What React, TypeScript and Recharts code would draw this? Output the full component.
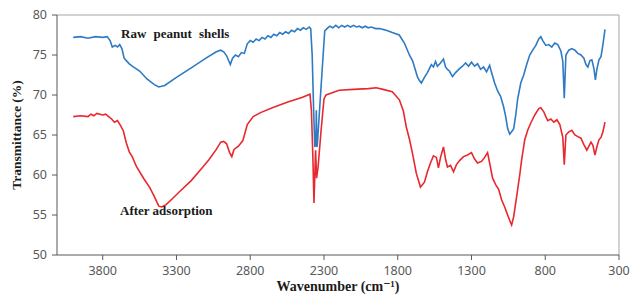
import { LineChart, Line, XAxis, YAxis, ReferenceLine, Label } from 'recharts';

// wavenumber (cm-1) / transmittance (%)
const rawShells = [
  { wn: 4000, t: 77.2 }, { wn: 3950, t: 77.3 }, { wn: 3900, t: 77.1 }, { wn: 3850, t: 77.3 },
  { wn: 3800, t: 77.2 }, { wn: 3770, t: 77.3 }, { wn: 3750, t: 76.8 }, { wn: 3735, t: 76.0 },
  { wn: 3715, t: 76.2 }, { wn: 3700, t: 76.0 }, { wn: 3685, t: 76.3 }, { wn: 3670, t: 75.8 },
  { wn: 3655, t: 74.6 }, { wn: 3640, t: 74.3 }, { wn: 3620, t: 73.9 }, { wn: 3600, t: 73.6 },
  { wn: 3550, t: 73.0 }, { wn: 3500, t: 72.0 }, { wn: 3450, t: 71.3 }, { wn: 3420, t: 71.0 },
  { wn: 3380, t: 71.2 }, { wn: 3300, t: 72.2 }, { wn: 3200, t: 73.4 }, { wn: 3100, t: 74.6 },
  { wn: 3030, t: 75.4 }, { wn: 3000, t: 75.6 }, { wn: 2980, t: 75.4 }, { wn: 2960, t: 74.9 },
  { wn: 2935, t: 73.8 }, { wn: 2920, t: 74.6 }, { wn: 2900, t: 75.0 }, { wn: 2880, t: 74.8 },
  { wn: 2860, t: 75.3 }, { wn: 2840, t: 75.2 }, { wn: 2820, t: 76.4 }, { wn: 2800, t: 76.8 },
  { wn: 2780, t: 76.6 }, { wn: 2760, t: 77.0 }, { wn: 2740, t: 76.8 }, { wn: 2720, t: 77.2 },
  { wn: 2700, t: 77.0 }, { wn: 2680, t: 77.4 }, { wn: 2660, t: 77.2 }, { wn: 2640, t: 77.6 },
  { wn: 2620, t: 77.4 }, { wn: 2600, t: 77.8 }, { wn: 2580, t: 77.6 }, { wn: 2560, t: 77.9 },
  { wn: 2540, t: 77.7 }, { wn: 2520, t: 78.1 }, { wn: 2500, t: 77.9 }, { wn: 2480, t: 78.3 },
  { wn: 2460, t: 78.1 }, { wn: 2440, t: 78.4 }, { wn: 2420, t: 78.2 }, { wn: 2400, t: 78.5 },
  { wn: 2390, t: 78.3 }, { wn: 2380, t: 75.0 }, { wn: 2370, t: 68.0 }, { wn: 2362, t: 63.5 },
  { wn: 2355, t: 64.0 }, { wn: 2352, t: 68.1 }, { wn: 2348, t: 63.5 }, { wn: 2345, t: 63.8 },
  { wn: 2320, t: 71.0 }, { wn: 2295, t: 78.0 }, { wn: 2280, t: 78.3 }, { wn: 2260, t: 78.6 },
  { wn: 2240, t: 78.4 }, { wn: 2220, t: 78.7 }, { wn: 2200, t: 78.4 }, { wn: 2180, t: 78.7 },
  { wn: 2160, t: 78.5 }, { wn: 2140, t: 78.7 }, { wn: 2120, t: 78.5 }, { wn: 2100, t: 78.7 },
  { wn: 2080, t: 78.5 }, { wn: 2060, t: 78.6 }, { wn: 2040, t: 78.4 }, { wn: 2020, t: 78.6 },
  { wn: 2000, t: 78.4 }, { wn: 1980, t: 78.5 }, { wn: 1950, t: 78.3 }, { wn: 1920, t: 78.3 },
  { wn: 1900, t: 78.2 }, { wn: 1878, t: 78.1 }, { wn: 1837, t: 77.8 }, { wn: 1790, t: 77.5 },
  { wn: 1755, t: 76.5 }, { wn: 1721, t: 75.0 }, { wn: 1700, t: 74.3 }, { wn: 1667, t: 72.3 },
  { wn: 1653, t: 71.8 }, { wn: 1640, t: 71.5 }, { wn: 1619, t: 72.2 }, { wn: 1599, t: 72.8 },
  { wn: 1572, t: 73.8 }, { wn: 1558, t: 73.5 }, { wn: 1544, t: 74.2 }, { wn: 1531, t: 73.6 },
  { wn: 1510, t: 74.0 }, { wn: 1490, t: 74.5 }, { wn: 1476, t: 73.5 }, { wn: 1463, t: 73.2 },
  { wn: 1450, t: 73.0 }, { wn: 1429, t: 72.3 }, { wn: 1408, t: 72.8 }, { wn: 1381, t: 73.3 },
  { wn: 1361, t: 73.6 }, { wn: 1340, t: 74.0 }, { wn: 1320, t: 73.6 }, { wn: 1300, t: 74.1 },
  { wn: 1279, t: 73.6 }, { wn: 1259, t: 73.9 }, { wn: 1238, t: 73.2 }, { wn: 1218, t: 73.5 },
  { wn: 1198, t: 72.9 }, { wn: 1177, t: 73.7 }, { wn: 1164, t: 72.8 }, { wn: 1143, t: 71.5 },
  { wn: 1123, t: 70.5 }, { wn: 1102, t: 69.8 }, { wn: 1082, t: 68.5 }, { wn: 1068, t: 67.3 },
  { wn: 1055, t: 65.8 }, { wn: 1041, t: 65.1 }, { wn: 1028, t: 65.4 }, { wn: 1014, t: 65.8 },
  { wn: 1000, t: 67.5 }, { wn: 987, t: 69.5 }, { wn: 966, t: 71.5 }, { wn: 946, t: 72.5 },
  { wn: 926, t: 73.8 }, { wn: 905, t: 75.0 }, { wn: 885, t: 75.6 }, { wn: 864, t: 76.2 },
  { wn: 844, t: 77.0 }, { wn: 830, t: 77.3 }, { wn: 817, t: 76.8 }, { wn: 796, t: 76.2 },
  { wn: 776, t: 76.3 }, { wn: 756, t: 76.0 }, { wn: 735, t: 76.5 }, { wn: 715, t: 76.3 },
  { wn: 694, t: 75.5 }, { wn: 681, t: 74.2 }, { wn: 671, t: 69.6 }, { wn: 660, t: 75.0 },
  { wn: 640, t: 75.6 }, { wn: 620, t: 75.8 }, { wn: 599, t: 75.6 }, { wn: 579, t: 75.2 },
  { wn: 558, t: 75.0 }, { wn: 538, t: 74.6 }, { wn: 524, t: 73.8 }, { wn: 511, t: 73.5 },
  { wn: 497, t: 74.3 }, { wn: 484, t: 74.4 }, { wn: 470, t: 73.3 }, { wn: 460, t: 71.9 },
  { wn: 450, t: 73.2 }, { wn: 436, t: 74.4 }, { wn: 422, t: 74.8 }, { wn: 409, t: 76.3 },
  { wn: 395, t: 78.2 },
];

const afterAdsorption = [
  { wn: 4000, t: 67.3 }, { wn: 3950, t: 67.4 }, { wn: 3900, t: 67.3 }, { wn: 3880, t: 67.6 },
  { wn: 3860, t: 67.4 }, { wn: 3840, t: 67.7 }, { wn: 3800, t: 67.5 }, { wn: 3780, t: 67.6 },
  { wn: 3760, t: 67.3 }, { wn: 3740, t: 67.0 }, { wn: 3720, t: 66.6 }, { wn: 3700, t: 66.8 },
  { wn: 3680, t: 66.2 }, { wn: 3660, t: 65.5 }, { wn: 3640, t: 64.0 }, { wn: 3620, t: 62.9 },
  { wn: 3600, t: 62.3 }, { wn: 3570, t: 61.0 }, { wn: 3520, t: 59.5 }, { wn: 3480, t: 58.4 },
  { wn: 3450, t: 57.3 }, { wn: 3420, t: 56.1 }, { wn: 3400, t: 56.0 }, { wn: 3370, t: 56.3 },
  { wn: 3330, t: 57.0 }, { wn: 3280, t: 57.9 }, { wn: 3200, t: 59.3 }, { wn: 3130, t: 60.8 },
  { wn: 3080, t: 61.9 }, { wn: 3030, t: 63.2 }, { wn: 3000, t: 64.1 }, { wn: 2980, t: 64.2 },
  { wn: 2960, t: 63.9 }, { wn: 2940, t: 62.8 }, { wn: 2925, t: 62.3 }, { wn: 2910, t: 63.2 },
  { wn: 2880, t: 63.6 }, { wn: 2850, t: 64.3 }, { wn: 2820, t: 66.3 }, { wn: 2780, t: 67.3 },
  { wn: 2730, t: 67.8 }, { wn: 2650, t: 68.4 }, { wn: 2550, t: 69.1 }, { wn: 2450, t: 69.7 },
  { wn: 2395, t: 70.1 }, { wn: 2385, t: 68.0 }, { wn: 2375, t: 62.0 }, { wn: 2368, t: 56.5 },
  { wn: 2362, t: 60.0 }, { wn: 2357, t: 63.1 }, { wn: 2350, t: 59.6 }, { wn: 2340, t: 61.0 },
  { wn: 2320, t: 65.5 }, { wn: 2300, t: 69.5 }, { wn: 2286, t: 70.0 }, { wn: 2240, t: 70.3 },
  { wn: 2197, t: 70.6 }, { wn: 2100, t: 70.7 }, { wn: 2000, t: 70.8 }, { wn: 1946, t: 70.9 },
  { wn: 1900, t: 70.7 }, { wn: 1837, t: 70.4 }, { wn: 1789, t: 69.4 }, { wn: 1762, t: 68.0 },
  { wn: 1742, t: 66.0 }, { wn: 1721, t: 64.5 }, { wn: 1700, t: 62.7 }, { wn: 1674, t: 60.2 },
  { wn: 1646, t: 58.5 }, { wn: 1619, t: 59.1 }, { wn: 1599, t: 60.4 }, { wn: 1578, t: 61.5 },
  { wn: 1558, t: 62.4 }, { wn: 1538, t: 62.2 }, { wn: 1524, t: 60.9 }, { wn: 1510, t: 62.2 },
  { wn: 1490, t: 63.5 }, { wn: 1476, t: 62.0 }, { wn: 1463, t: 61.0 }, { wn: 1442, t: 61.2 },
  { wn: 1422, t: 60.4 }, { wn: 1402, t: 61.3 }, { wn: 1381, t: 61.8 }, { wn: 1354, t: 62.3 },
  { wn: 1327, t: 62.5 }, { wn: 1300, t: 62.8 }, { wn: 1279, t: 62.0 }, { wn: 1259, t: 61.5 },
  { wn: 1232, t: 61.7 }, { wn: 1211, t: 62.2 }, { wn: 1191, t: 62.8 }, { wn: 1177, t: 61.5 },
  { wn: 1157, t: 59.6 }, { wn: 1136, t: 58.8 }, { wn: 1116, t: 58.2 }, { wn: 1096, t: 56.9 },
  { wn: 1075, t: 56.0 }, { wn: 1055, t: 55.0 }, { wn: 1034, t: 54.0 }, { wn: 1028, t: 53.75 },
  { wn: 1014, t: 54.8 }, { wn: 994, t: 57.3 }, { wn: 973, t: 60.0 }, { wn: 960, t: 61.9 },
  { wn: 939, t: 64.4 }, { wn: 919, t: 65.6 }, { wn: 898, t: 66.5 }, { wn: 871, t: 67.5 },
  { wn: 844, t: 68.3 }, { wn: 830, t: 68.4 }, { wn: 810, t: 67.9 }, { wn: 796, t: 67.3 },
  { wn: 783, t: 66.8 }, { wn: 762, t: 67.0 }, { wn: 742, t: 66.6 }, { wn: 721, t: 66.9 },
  { wn: 701, t: 66.3 }, { wn: 681, t: 64.7 }, { wn: 671, t: 61.3 }, { wn: 660, t: 65.0 },
  { wn: 640, t: 65.4 }, { wn: 620, t: 65.6 }, { wn: 599, t: 65.0 }, { wn: 579, t: 64.8 },
  { wn: 558, t: 64.6 }, { wn: 538, t: 63.8 }, { wn: 518, t: 63.1 }, { wn: 504, t: 63.6 },
  { wn: 490, t: 64.1 }, { wn: 477, t: 63.7 }, { wn: 463, t: 62.5 }, { wn: 450, t: 63.5 },
  { wn: 436, t: 64.4 }, { wn: 422, t: 64.7 }, { wn: 409, t: 65.4 }, { wn: 395, t: 66.6 },
];

const xTicks = [3800, 3300, 2800, 2300, 1800, 1300, 800, 300];
const yTicks = [50, 55, 60, 65, 70, 75, 80];

const tickStyle = { fill: '#595959', fontSize: 12.5, fontFamily: '"Noto Sans", sans-serif' };
const serifBold = { fontFamily: '"Liberation Serif", "DejaVu Serif", serif', fontWeight: 700 };

export default function App() {
  return (
    <div style={{ position: 'absolute', left: 0, top: 0, width: 630, height: 296, background: '#fff' }}>
      <LineChart width={630} height={296} margin={{ top: 15, right: 11, bottom: 11, left: 20 }}>
        <XAxis
          type="number"
          dataKey="wn"
          domain={[300, 4110]}
          reversed
          ticks={xTicks}
          allowDataOverflow
          height={30}
          tick={tickStyle}
          tickSize={5}
          tickMargin={6}
          stroke="#595959"
        >
          <Label
            value="Wavenumber  (cm⁻¹)"
            position="insideBottom"
            offset={-6}
            style={{ ...serifBold, fontSize: 14, fill: '#1a1a1a' }}
          />
        </XAxis>
        <YAxis
          type="number"
          domain={[50, 80]}
          ticks={yTicks}
          width={37}
          tick={tickStyle}
          tickSize={5}
          tickMargin={5}
          stroke="#595959"
        >
          <Label
            value="Transmittance  (%)"
            angle={-90}
            position="insideLeft"
            offset={-4}
            style={{ ...serifBold, fontSize: 13.5, fill: '#1a1a1a', textAnchor: 'middle' }}
          />
        </YAxis>
        <ReferenceLine y={80} stroke="#a6a6a6" strokeWidth={1} />
        <ReferenceLine x={300} stroke="#a6a6a6" strokeWidth={1} />
        <Line
          data={rawShells}
          dataKey="t"
          type="linear"
          stroke="#2e7bc4"
          strokeWidth={1.6}
          dot={false}
          isAnimationActive={false}
        />
        <Line
          data={afterAdsorption}
          dataKey="t"
          type="linear"
          stroke="#e8282e"
          strokeWidth={1.6}
          dot={false}
          isAnimationActive={false}
        />
      </LineChart>
      <div style={{ position: 'absolute', left: 121, top: 26, fontSize: 13, color: '#1a1a1a', wordSpacing: 4, ...serifBold }}>
        Raw peanut shells
      </div>
      <div style={{ position: 'absolute', left: 120, top: 203, fontSize: 13, color: '#1a1a1a', ...serifBold }}>
        After adsorption
      </div>
    </div>
  );
}
